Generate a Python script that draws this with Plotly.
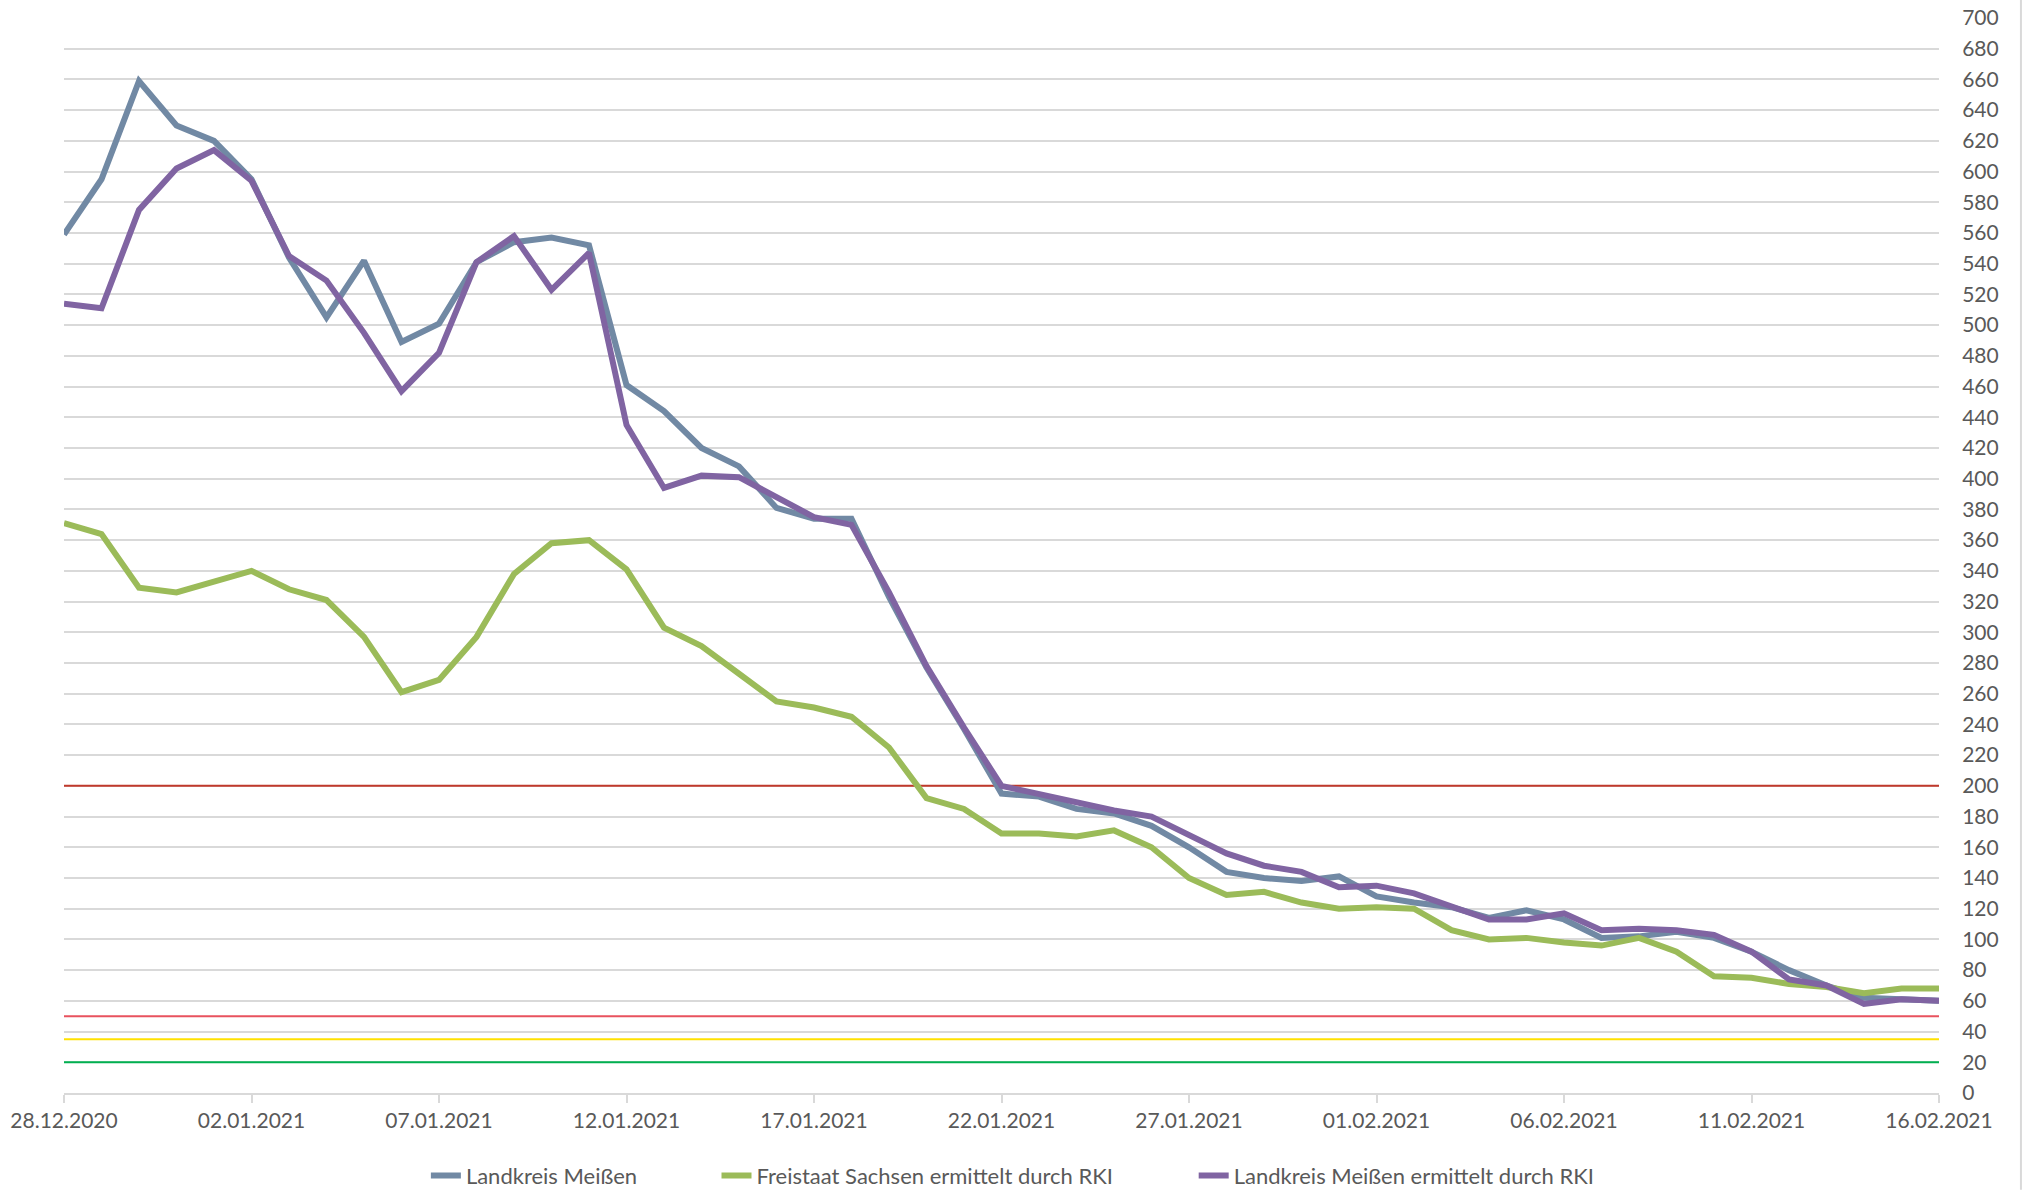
import plotly.graph_objects as go
import pandas as pd

dates = pd.date_range("2020-12-28", "2021-02-16", freq="D")

landkreis = [559, 595, 659, 630, 620, 595, 544, 505, 542, 489,
             501, 541, 554, 557, 552, 461, 444, 420, 408, 381,
             374, 374, 323, 277, 237, 195, 193, 185, 182, 174,
             160, 144, 140, 138, 141, 128, 124, 121, 114, 119,
             113, 101, 102, 105, 101, 92, 80, 70, 62, 61, 60]

sachsen_rki = [371, 364, 329, 326, 333, 340, 328, 321, 297, 261,
               269, 297, 338, 358, 360, 341, 303, 291, 273, 255,
               251, 245, 225, 192, 185, 169, 169, 167, 171, 160,
               140, 129, 131, 124, 120, 121, 120, 106, 100, 101,
               98, 96, 101, 92, 76, 75, 71, 69, 65, 68, 68]

landkreis_rki = [514, 511, 575, 602, 614, 594, 545, 529, 495, 457,
                 482, 541, 558, 523, 547, 435, 394, 402, 401, 388,
                 375, 370, 326, 278, 238, 200, 195, 189, 184, 180,
                 168, 156, 148, 144, 134, 135, 130, 122, 113, 113,
                 117, 106, 107, 106, 103, 92, 74, 70, 58, 61, 60]

threshold_values = [200, 50, 35, 20]
threshold_colors = ["#C0392B", "#E8525E", "#FFE100", "#00B050"]

series_names = ["Landkreis Meißen", "Freistaat Sachsen ermittelt durch RKI",
                "Landkreis Meißen ermittelt durch RKI"]
series_colors = ["#7189A4", "#9BBB59", "#8064A2"]
legend_ids = ["legend", "legend2", "legend3"]
legend_x = [0.1930, 0.3480, 0.6025]

tick_dates = dates[::5]

fig = go.Figure()

for v, c in zip(threshold_values, threshold_colors):
    fig.add_trace(go.Scatter(x=[dates[0], dates[-1]], y=[v, v], mode="lines",
                             line=dict(color=c, width=2), showlegend=False,
                             hoverinfo="skip"))

for name, vals, col, lg in zip(series_names, [landkreis, sachsen_rki, landkreis_rki],
                               series_colors, legend_ids):
    fig.add_trace(go.Scatter(x=dates, y=vals, mode="lines", name=name, legend=lg,
                             line=dict(color=col, width=6)))

font_family = "Lato, Liberation Sans, sans-serif"
text_color = "#595959"
fsize = 21

legend_common = dict(orientation="h", y=-0.077, yanchor="middle", xanchor="left",
                     font=dict(family=font_family, size=22, color=text_color),
                     bgcolor="rgba(0,0,0,0)")

fig.update_layout(
    width=2024, height=1190,
    margin=dict(l=64, r=85, t=18, b=97, autoexpand=False),
    paper_bgcolor="white", plot_bgcolor="white",
    font=dict(family=font_family, size=fsize, color=text_color),
    showlegend=True,
    legend=dict(x=legend_x[0], **legend_common),
    legend2=dict(x=legend_x[1], **legend_common),
    legend3=dict(x=legend_x[2], **legend_common),
    xaxis=dict(range=[dates[0], dates[-1]], tickvals=tick_dates,
               tickformat="%d.%m.%Y", showgrid=False, showline=True,
               linecolor="#D9D9D9", linewidth=2, ticks="outside", ticklen=8,
               tickcolor="#D9D9D9", tickwidth=2, zeroline=False, automargin=False,
               tickfont=dict(family=font_family, size=fsize, color=text_color)),
    yaxis=dict(range=[0, 700], dtick=20, side="right", showgrid=True,
               gridcolor="#D9D9D9", gridwidth=2, zeroline=False, showline=False,
               ticks="outside", ticklen=18, tickcolor="rgba(0,0,0,0)", automargin=False,
               tickfont=dict(family=font_family, size=fsize, color=text_color)),
    shapes=[dict(type="line", xref="paper", yref="paper", x0=1.0437, x1=1.0437,
                 y0=-0.09, y1=1.017, line=dict(color="#D9D9D9", width=2))],
)

fig.write_html("out.html", config={"displayModeBar": False},
               post_script="document.body.style.margin='0';document.body.style.overflow='hidden';")
